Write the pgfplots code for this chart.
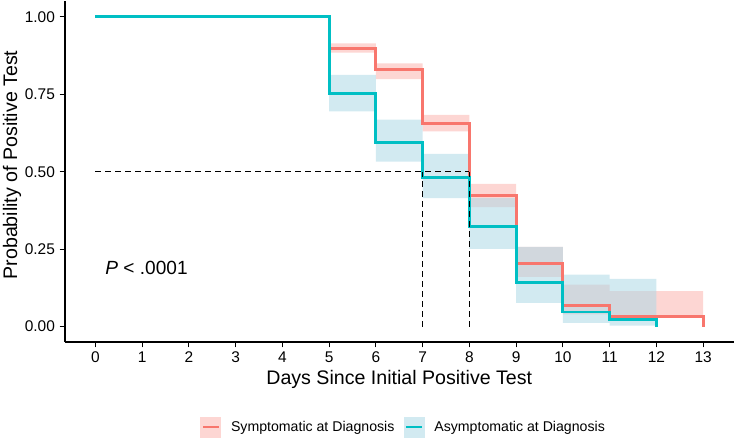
\documentclass[border=0pt]{standalone}
\usepackage{pgfplots}
\pgfplotsset{compat=1.18}
\usepackage{fontspec}
\setmainfont{Liberation Sans}
\definecolor{symred}{HTML}{F8766D}
\definecolor{asyteal}{HTML}{00BFC4}
\definecolor{asyband}{HTML}{ADD8E6}
\begin{document}
\begin{tikzpicture}
\useasboundingbox (-48.75pt,-73.5pt) rectangle (503.25pt,256.5pt);
\begin{axis}[
  scale only axis, width=501.4pt, height=255.4pt,
  xmin=-0.65, xmax=13.65, ymin=-0.05, ymax=1.05,
  axis x line*=bottom, axis y line*=left,
  axis line style={-, line width=0.8pt, black},
  xtick={0,1,2,3,4,5,6,7,8,9,10,11,12,13},
  ytick={0,0.25,0.5,0.75,1},
  y tick label style={/pgf/number format/.cd, fixed, fixed zerofill, precision=2, /tikz/.cd},
  /pgf/number format/assume math mode=true,
  tick align=outside, major tick length=4pt,
  tick style={line width=0.8pt, black},
  tick label style={font=\fontsize{11.6}{13}\selectfont, black},
  xlabel={Days Since Initial Positive Test},
  ylabel={Probability of Positive Test},
  label style={font=\fontsize{14.7}{17}\selectfont},
  xlabel style={at={(axis description cs:0.5,0)}, anchor=base, yshift=-31.5pt},
  ylabel style={at={(axis description cs:-0.0718,0.52)}, anchor=base},
  legend columns=2,
  legend style={draw=none, fill=none, at={(axis description cs:0.507,-0.25)}, anchor=center,
    font=\fontsize{10.6}{12}\selectfont,
    /tikz/every even column/.append style={column sep=5pt}},
  clip=false,
]
% legend entries
\addlegendimage{legend image code/.code={
  \fill[draw=none, fill=symred, fill opacity=0.3] (0pt,-7.9pt) rectangle (15.8pt,7.9pt);
  \draw[symred, line width=2pt] (2pt,0pt) -- (13.8pt,0pt);
  \path[draw=none, fill=none] (0pt,0pt) rectangle (21pt,0.1pt);}}
\addlegendentry{Symptomatic at Diagnosis}
\addlegendimage{legend image code/.code={
  \fill[draw=none, fill=asyband, fill opacity=0.55] (0pt,-7.9pt) rectangle (15.8pt,7.9pt);
  \draw[asyteal, line width=2pt] (2pt,0pt) -- (13.8pt,0pt);
  \path[draw=none, fill=none] (0pt,0pt) rectangle (21pt,0.1pt);}}
\addlegendentry{Asymptomatic at Diagnosis}

% confidence bands
\addplot[forget plot, draw=none, fill=symred, fill opacity=0.3] coordinates {
 (5,0.915)(6,0.915)(6,0.850)(7,0.850)(7,0.684)(8,0.684)(8,0.461)(9,0.461)
 (9,0.257)(10,0.257)(10,0.135)(11,0.135)(11,0.114)(12,0.114)(13,0.114)
 (13,0.030)(12,0.030)(12,0.020)(11,0.020)(11,0.039)(10,0.039)(10,0.160)(9,0.160)
 (9,0.386)(8,0.386)(8,0.630)(7,0.630)(7,0.799)(6,0.799)(6,0.885)(5,0.885)
} -- cycle;
\addplot[forget plot, draw=none, fill=asyband, fill opacity=0.55] coordinates {
 (5,0.813)(6,0.813)(6,0.668)(7,0.668)(7,0.558)(8,0.558)(8,0.415)(9,0.415)
 (9,0.257)(10,0.257)(10,0.168)(11,0.168)(11,0.154)(12,0.154)
 (12,0.003)(11,0.003)(11,0.012)(10,0.012)(10,0.076)(9,0.076)(9,0.251)(8,0.251)
 (8,0.415)(7,0.415)(7,0.533)(6,0.533)(6,0.695)(5,0.695)
} -- cycle;

% survival curves
\addplot[forget plot, const plot, symred, line width=2.2pt] coordinates {
 (0,1)(5,0.899)(6,0.830)(7,0.655)(8,0.423)(9,0.203)(10,0.069)(11,0.033)(12,0.033)(13,0)
};
\addplot[forget plot, const plot, asyteal, line width=2.2pt] coordinates {
 (0,1)(5,0.754)(6,0.595)(7,0.482)(8,0.322)(9,0.141)(10,0.047)(11,0.023)(12,0)
};

% median lines
\addplot[forget plot, black, line width=0.9pt, dash pattern=on 4pt off 3.5pt] coordinates {(0,0.5)(8,0.5)};
\addplot[forget plot, black, line width=0.9pt, dash pattern=on 4pt off 3.5pt] coordinates {(7,0)(7,0.5)};
\addplot[forget plot, black, line width=0.9pt, dash pattern=on 4pt off 3.5pt] coordinates {(8,0)(8,0.5)};

\node[anchor=west, font=\fontsize{14.3}{16}\selectfont, inner sep=0pt] at (axis cs:0.21,0.19) {\textit{P} < .0001};
\end{axis}
\end{tikzpicture}
\end{document}
